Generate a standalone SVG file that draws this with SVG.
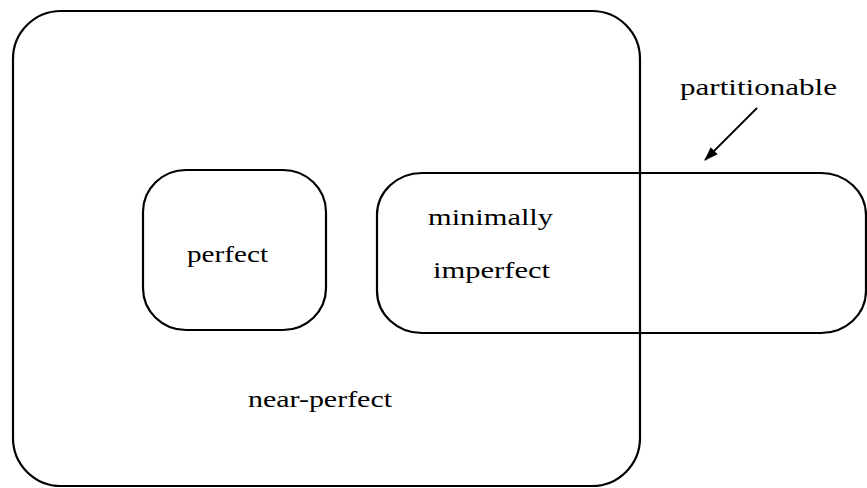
<svg xmlns="http://www.w3.org/2000/svg" width="867" height="488" viewBox="0 0 867 488">
<defs>
<style>
.box{fill:none;stroke:#000;stroke-width:2.2}
.lbl{font-family:"Liberation Serif","DejaVu Serif",serif;font-size:24px;fill:#000}
.conn{stroke:#000;stroke-width:1.8;fill:none}
</style>
<marker id="ah" markerWidth="14" markerHeight="10" refX="13" refY="5" orient="auto" markerUnits="userSpaceOnUse">
<path d="M0,0 L14,5 L0,10 Z" fill="#000"/>
</marker>
</defs>
<rect width="867" height="488" fill="#fff"/>
<g id="near-perfect">
<rect class="box" x="13" y="11" width="627" height="475" rx="48" ry="48"/>
<text class="lbl" x="248" y="407" textLength="144" lengthAdjust="spacingAndGlyphs">near-perfect</text>
</g>
<g id="perfect">
<rect class="box" x="143" y="170" width="183" height="160" rx="43" ry="42"/>
<text class="lbl" x="187" y="262" textLength="81" lengthAdjust="spacingAndGlyphs">perfect</text>
</g>
<g id="partitionable">
<rect class="box" x="377" y="173" width="489" height="160" rx="45" ry="42"/>
<text class="lbl" x="428" y="225" textLength="125" lengthAdjust="spacingAndGlyphs">minimally</text>
<text class="lbl" x="433" y="278" textLength="117" lengthAdjust="spacingAndGlyphs">imperfect</text>
</g>
<g id="label-partitionable">
<text class="lbl" x="680" y="95" textLength="157" lengthAdjust="spacingAndGlyphs">partitionable</text>
</g>
<g id="connectors">
<line class="conn" x1="757" y1="108" x2="705" y2="160" marker-end="url(#ah)"/>
</g>
</svg>
